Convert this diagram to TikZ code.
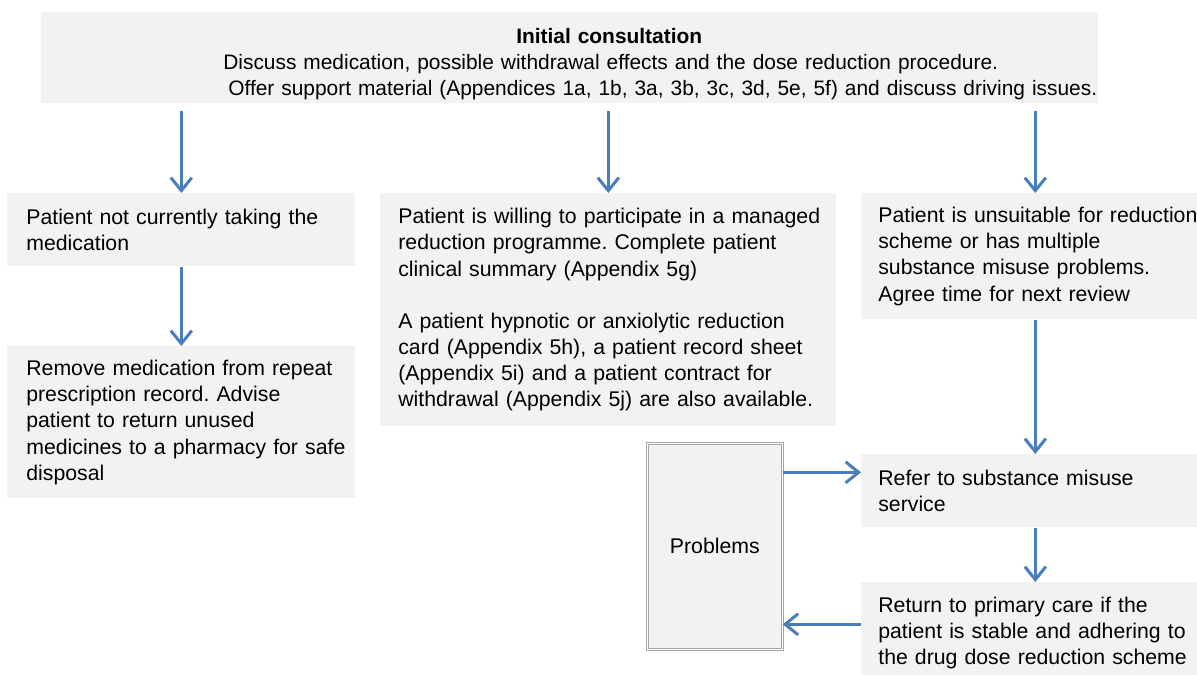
\documentclass[tikz,border=0pt]{standalone}
\usepackage{fontspec}
\setmainfont{Liberation Sans}
\usetikzlibrary{arrows.meta}
\definecolor{boxgray}{HTML}{F2F2F2}
\definecolor{flowblue}{HTML}{4A7EBB}
\definecolor{framegray}{HTML}{A6A6A6}
\newcommand\boxfont{\fontsize{12.1}{14.9}\selectfont\frenchspacing}
\newcommand\topfont{\fontsize{11.9}{14.9}\selectfont\frenchspacing}

\begin{document}
\begin{tikzpicture}[x=0.02cm,y=-0.02cm,
    box/.style n args={3}{fill=boxgray,anchor=north west,align=left,inner sep=0pt,font=\boxfont,
      text width=#1,minimum height=#2,execute at begin node={\leftskip=#3\rightskip=0pt plus 1fil\relax}},
    probbox/.style={fill=boxgray,draw=framegray,double=white,double distance=0.03cm,line width=0.4pt,
      anchor=north west,minimum width=2.7cm,minimum height=4.12cm,font=\boxfont},
    flow/.style={draw=flowblue,line width=0.06cm,-{Straight Barb[length=0.26cm,width=0.42cm]}}]

      \useasboundingbox (0,0) rectangle (1197,675); % page

      \node[box={21.14cm}{1.82cm}{3.64cm},font=\topfont,text height=15.5pt] (top) at (41,12) {%
        \hspace*{5.86cm}\textbf{Initial consultation}\\
        Discuss medication, possible withdrawal effects and the dose reduction procedure.\\
        \hspace*{0.1cm}Offer support material (Appendices 1a, 1b, 3a, 3b, 3c, 3d, 5e, 5f) and discuss driving issues.}; % top box

      \node[box={6.96cm}{1.46cm}{0.38cm}] (pnt) at (7,193) {Patient not currently taking the\\ medication};
      \node[box={6.96cm}{3.04cm}{0.38cm}] (rmv) at (7,346) {Remove medication from repeat\\ prescription record. Advise\\
        patient to return unused\\ medicines to a pharmacy for safe\\ disposal};

      \node[box={9.12cm}{4.66cm}{0.36cm}] (will) at (380,193) {Patient is willing to participate in a managed\\
        reduction programme. Complete patient\\ clinical summary (Appendix 5g)\\[14.9pt]
        A patient hypnotic or anxiolytic reduction\\ card (Appendix 5h), a patient record sheet\\
        (Appendix 5i) and a patient contract for\\ withdrawal (Appendix 5j) are also available.};

      \node[box={6.96cm}{2.52cm}{0.34cm}] (uns) at (861,193) {Patient is unsuitable for reduction\\ scheme or has multiple\\
        substance misuse problems.\\ Agree time for next review};
      \node[box={6.96cm}{1.46cm}{0.34cm}] (refer) at (861,454) {Refer to substance misuse\\ service};
      \node[box={6.96cm}{2.02cm}{0.34cm}] (ret) at (861,582) {Return to primary care if the\\
        patient is stable and adhering to\\ the drug dose reduction scheme};

      \node[probbox] (prob) at (647,443) {Problems};

      \foreach \n in {pnt,will,uns}
      \draw[flow,shorten <=0.14cm] (top.south -| \n.north) -- (\n.north);

      \draw[flow] (pnt.south) -- (rmv.north); % left column
      \draw[flow] (uns.south) -- (refer.north); % right column
      \draw[flow] (refer.south) -- (ret.north);

      \coordinate (pa) at ([yshift=1.48cm]prob.east);
      \coordinate (pb) at ([yshift=-1.56cm]prob.east);
      \draw[flow] (pa) -- (pa -| refer.west); % problems out
      \draw[flow] (pb -| ret.west) -- (pb); % problems back

\end{tikzpicture}
\end{document}
